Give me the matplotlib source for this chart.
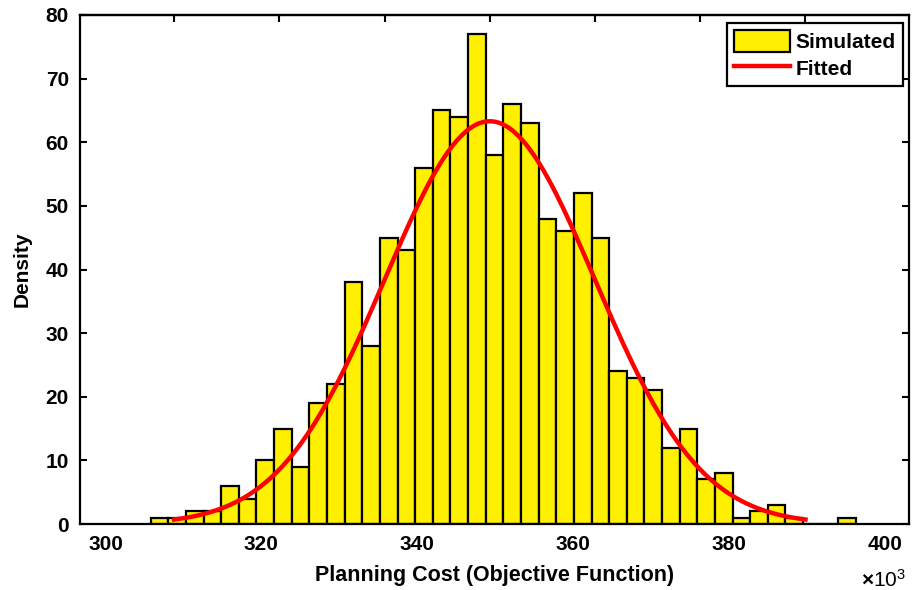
import numpy as np
import matplotlib
matplotlib.use('Agg')
import matplotlib.pyplot as plt

# Histogram counts per bin, x in units of 10^3
COUNTS = [1, 1, 2, 2, 6, 4, 10, 15, 9, 19,
          22, 38, 28, 45, 43, 56, 65, 64, 77, 58,
          66, 63, 48, 46, 52, 45, 24, 23, 21, 12,
          15, 7, 8, 1, 2, 3, 1, 0, 0, 1]
BIN_START = 305.8
BIN_WIDTH = 2.262

# Fitted normal curve
MU = 349.3
SIGMA = 13.5
PEAK = 63.3

X_LABELS = [300, 320, 340, 360, 380, 400]
Y_TICKS = [0, 10, 20, 30, 40, 50, 60, 70, 80]

plt.rcParams['font.family'] = ['Liberation Sans', 'DejaVu Sans']
plt.rcParams['font.weight'] = 'bold'
plt.rcParams['mathtext.fontset'] = 'custom'
plt.rcParams['mathtext.rm'] = 'Liberation Sans'

fig = plt.figure(figsize=(9.14, 5.9), dpi=100)
ax = fig.add_axes([80 / 914, 66 / 590, 829 / 914, 509 / 590])

edges = BIN_START + BIN_WIDTH * np.arange(len(COUNTS))
bars = ax.bar(edges, COUNTS, width=BIN_WIDTH, align='edge', color='#FFEF00',
              edgecolor='black', linewidth=1.6, label='Simulated', zorder=2)

xfit = np.linspace(MU - 3 * SIGMA, MU + 3 * SIGMA, 300)
yfit = PEAK * np.exp(-0.5 * ((xfit - MU) / SIGMA) ** 2)
line, = ax.plot(xfit, yfit, color='red', linewidth=3.2, label='Fitted', zorder=3)

ax.set_xlim(296.73, 403.08)
ax.set_ylim(0, 80)
for s in ax.spines.values():
    s.set_linewidth(1.6)

ax.set_xticks(X_LABELS)
ax.tick_params(axis='x', length=0, pad=8, labelsize=15)
ax.set_yticks(Y_TICKS)
ax.tick_params(axis='y', direction='in', length=5, width=1.5, right=True,
               pad=8, labelsize=15)

# top tick marks sit at mu + k*sigma in the original
top = ax.secondary_xaxis('top')
top.set_xticks(MU + SIGMA * np.arange(-3, 4))
top.set_xticklabels([])
top.tick_params(direction='in', length=5, width=1.5)
top.spines['top'].set_linewidth(1.6)

ax.set_xlabel('Planning Cost (Objective Function)', fontsize=15.5,
              fontweight='bold', labelpad=8)
ax.set_ylabel('Density', fontsize=15, fontweight='bold', labelpad=10)

fig.text(906 / 914, 1 - 580 / 590, r'$\times\mathregular{10^{3}}$', ha='right',
         va='center', fontsize=15, fontweight='normal')

leg = ax.legend([bars, line], ['Simulated', 'Fitted'], loc='upper right',
                bbox_to_anchor=(903 / 914, 1 - 23 / 590),
                bbox_transform=fig.transFigure, fancybox=False, framealpha=1,
                edgecolor='black', borderaxespad=0, handlelength=2.7,
                handleheight=1.2, handletextpad=0.25, labelspacing=0.25,
                borderpad=0.35, prop={'size': 15, 'weight': 'bold'})
leg.get_frame().set_linewidth(1.6)

fig.savefig('out.png', dpi=100)
